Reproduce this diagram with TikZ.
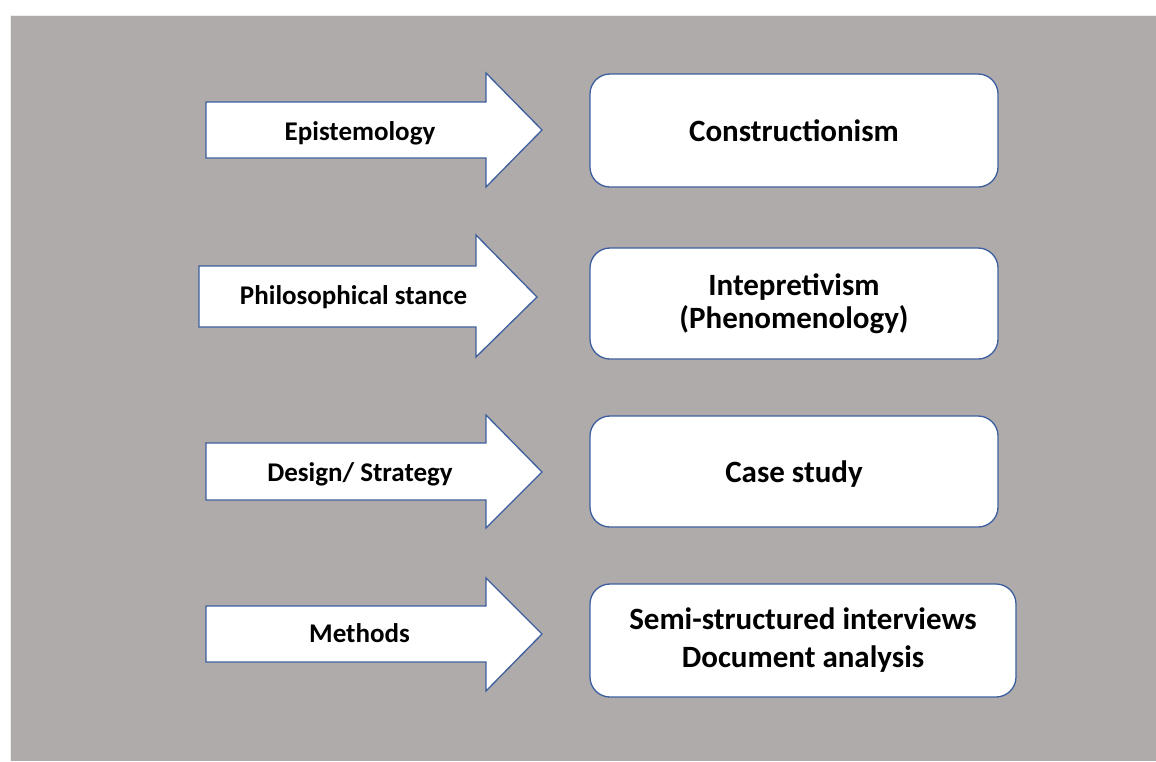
\documentclass[tikz,border=0pt]{standalone}
\usepackage{fontspec}
\setmainfont{Carlito}
\begin{document}
\begin{tikzpicture}[x=1pt,y=-1pt]
\definecolor{panel}{HTML}{AFABAB}
\definecolor{outline}{HTML}{3D5F9E}
\tikzset{
  edge/.style={draw=outline, line width=1.3pt},
  arrowshape/.style={edge, fill=white, line join=miter},
  card/.style={edge, fill=white, rounded corners=20pt, inner sep=0pt,
    align=center, font=\bfseries\fontsize{31}{33}\selectfont},
  arrowtext/.style={anchor=base, inner sep=0pt, font=\bfseries\fontsize{27}{32}\selectfont}
}
\useasboundingbox (0,0) rectangle (1156,761);
% grey panel
\fill[panel] (10,15) rectangle (1156,761);
\draw[white!80!panel, line width=0.8pt] (10,761) -- (10,15) -- (1156,15);

% block arrows: body left, body top, body bottom, head x, head top, head bottom, tip x, tip y
\newcommand\blockarrow[8]{%
  \draw[arrowshape] (#1,#2) -- (#4,#2) -- (#4,#5) -- (#7,#8) -- (#4,#6) -- (#4,#3) -- (#1,#3) -- cycle;}
\blockarrow{206}{102}{158}{486}{73}{187}{542}{130}
\blockarrow{199}{266}{327}{476}{235}{357}{537}{297}
\blockarrow{206}{443}{500}{486}{415}{528}{542}{472}
\blockarrow{206}{606}{662}{486}{578}{691}{542}{634}

\node[arrowtext] (a1) at (360,140) {Epistemology};
\node[arrowtext] (a2) at (353.5,304) {Philosophical stance};
\node[arrowtext] (a3) at (360,481.7) {Design/ Strategy};
\node[arrowtext] (a4) at (359.5,642) {Methods};

% result cards
\node[card, text depth=0pt, minimum width=408pt, minimum height=113pt] (c1) at (794,130.5) {Constructionism};
\node[card, minimum width=408pt, minimum height=111pt] (c2) at (794,303.5) {Intepretivism\\(Phenomenology)};
\node[card, text depth=0pt, minimum width=408pt, minimum height=111pt] (c3) at (794,471.5) {Case study};
\node[card, font=\bfseries\fontsize{31}{38}\selectfont, minimum width=426pt, minimum height=113pt] (c4) at (803,640.5) {Semi-structured interviews\\Document analysis};
\end{tikzpicture}
\end{document}
